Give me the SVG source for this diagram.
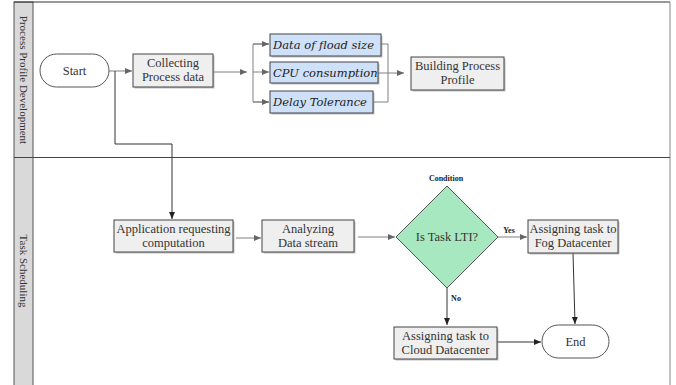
<svg xmlns="http://www.w3.org/2000/svg" width="676" height="385" viewBox="0 0 676 385">
<defs>
<style>
.box{fill:#efefef;stroke:#444;stroke-width:1}
.shadow{fill:#9a9a9a;opacity:0.6}
.blue{fill:#cfe0f9;stroke:#444;stroke-width:1}
.term{fill:#fff;stroke:#555;stroke-width:1}
.t{font-family:"Liberation Serif","Times New Roman",serif;font-size:12.5px;fill:#333;text-anchor:middle}
.ti{font-family:"DejaVu Serif","Liberation Serif",serif;font-style:italic;font-size:11.5px;fill:#222}
.lane{font-family:"Liberation Serif","Times New Roman",serif;font-size:11px;fill:#333;text-anchor:middle}
.sm{font-family:"Liberation Serif","Times New Roman",serif;font-size:8px;font-weight:bold;fill:#222;text-anchor:middle}
.c{fill:none;stroke:#808080;stroke-width:1}
.cd{fill:none;stroke:#333;stroke-width:1}
</style>
<marker id="ah" markerWidth="8" markerHeight="8" refX="7" refY="4" orient="auto" markerUnits="userSpaceOnUse">
<path d="M0,1 L7,4 L0,7 Z" fill="#666"/>
</marker>
<marker id="ahd" markerWidth="8" markerHeight="8" refX="7" refY="4" orient="auto" markerUnits="userSpaceOnUse">
<path d="M0,1 L7,4 L0,7 Z" fill="#222"/>
</marker>
</defs>
<rect width="676" height="385" fill="#fff"/>
<g id="lanes">
<rect x="14" y="2" width="19" height="390" fill="#d9d9d9" stroke="#555" stroke-width="1"/>
<line x1="14" y1="2" x2="670" y2="2" stroke="#333" stroke-width="1.2"/>
<line x1="670" y1="2" x2="670" y2="390" stroke="#999" stroke-width="1.2"/>
<line x1="14" y1="157.5" x2="670" y2="157.5" stroke="#444" stroke-width="1"/>
<text class="lane" transform="translate(20,80) rotate(90)">Process Profile  Development</text>
<text class="lane" transform="translate(20,271) rotate(90)">Task Scheduling</text>
</g>
<g id="connectors">
<path class="c" d="M109,71 H132" marker-end="url(#ah)"/>
<path class="cd" d="M115,71 V144 H172 V219" marker-end="url(#ahd)"/>
<path class="c" d="M213,72 H247" marker-end="url(#ah)"/>
<path class="c" d="M269,44 H253 V102 H269"/>
<path class="c" d="M253,44 H269" marker-end="url(#ah)"/>
<path class="c" d="M253,72 H269" marker-end="url(#ah)"/>
<path class="c" d="M253,102 H269" marker-end="url(#ah)"/>
<path class="c" d="M381,44 H388 V102 H373"/>
<path class="c" d="M378,73 H404" marker-end="url(#ah)"/>
<path class="c" d="M236,238 H261" marker-end="url(#ah)"/>
<path class="c" d="M358,237 H395" marker-end="url(#ah)"/>
<path class="c" d="M498,237 H527" marker-end="url(#ah)"/>
<path class="cd" d="M447,287 V325" marker-end="url(#ahd)"/>
<path class="cd" d="M497,342 H541" marker-end="url(#ahd)"/>
<path class="cd" d="M573,253 L575,324" marker-end="url(#ahd)"/>
<text class="sm" x="509" y="233">Yes</text>
<text class="sm" x="456" y="301">No</text>
</g>
<g id="start">
<rect x="40" y="54" width="69" height="33" rx="16.5" class="term"/>
<text class="t" x="74.5" y="75">Start</text>
</g>
<g id="collecting">
<rect x="134.5" y="55.5" width="80" height="33" class="shadow"/>
<rect x="133" y="54" width="80" height="33" class="box"/>
<text class="t" x="173" y="67">Collecting</text>
<text class="t" x="173" y="81">Process data</text>
</g>
<g id="dataoffload">
<rect x="271.5" y="35.5" width="111" height="22" class="shadow"/>
<rect x="270" y="34" width="111" height="22" class="blue"/>
<text class="ti" x="273" y="49">Data of fload size</text>
</g>
<g id="cpu">
<rect x="271.5" y="63.5" width="108" height="21" class="shadow"/>
<rect x="270" y="62" width="108" height="21" class="blue"/>
<text class="ti" x="273" y="77">CPU consumption</text>
</g>
<g id="delay">
<rect x="271.5" y="92.5" width="103" height="22" class="shadow"/>
<rect x="270" y="91" width="103" height="22" class="blue"/>
<text class="ti" x="273" y="106">Delay Tolerance</text>
</g>
<g id="building">
<rect x="412.5" y="58.5" width="93" height="33" class="shadow"/>
<rect x="411" y="57" width="93" height="33" class="box"/>
<text class="t" x="457.5" y="70">Building  Process</text>
<text class="t" x="457.5" y="84">Profile</text>
</g>
<g id="application">
<rect x="115.5" y="221.5" width="119" height="32" class="shadow"/>
<rect x="114" y="220" width="119" height="32" class="box"/>
<text class="t" x="173.5" y="233">Application requesting</text>
<text class="t" x="173.5" y="247">computation</text>
</g>
<g id="analyzing">
<rect x="263.5" y="221.5" width="92" height="32" class="shadow"/>
<rect x="262" y="220" width="92" height="32" class="box"/>
<text class="t" x="308" y="233">Analyzing</text>
<text class="t" x="308" y="247">Data stream</text>
</g>
<g id="condition">
<polygon points="447,186 498,237 447,288 396,237" fill="#a8e8c0" stroke="#555" stroke-width="1"/>
<text class="sm" x="446" y="181">Condition</text>
<text class="t" x="447" y="241">Is Task LTI?</text>
</g>
<g id="fog">
<rect x="529.5" y="221.5" width="90" height="33" class="shadow"/>
<rect x="528" y="220" width="90" height="33" class="box"/>
<text class="t" x="573" y="233">Assigning task to</text>
<text class="t" x="573" y="247">Fog Datacenter</text>
</g>
<g id="cloud">
<rect x="395.5" y="328.5" width="103" height="32" class="shadow"/>
<rect x="394" y="327" width="103" height="32" class="box"/>
<text class="t" x="445.5" y="340">Assigning task to</text>
<text class="t" x="445.5" y="354">Cloud Datacenter</text>
</g>
<g id="end">
<rect x="542" y="325" width="67" height="33" rx="16.5" class="term"/>
<text class="t" x="575.5" y="346">End</text>
</g>
</svg>
